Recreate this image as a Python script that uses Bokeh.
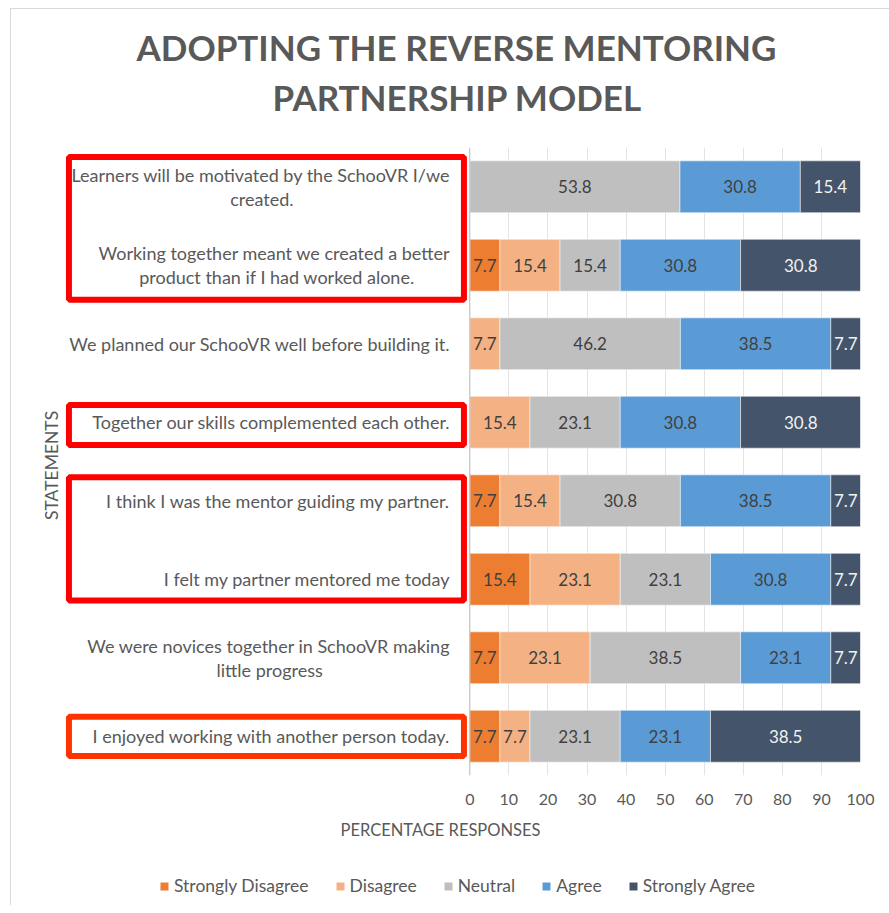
from bokeh.plotting import figure
from bokeh.layouts import column
from bokeh.models import ColumnDataSource, FixedTicker, Span, Legend, LegendItem, Range1d, Title
from bokeh.core.properties import value
from bokeh.embed import file_html
from bokeh.resources import INLINE

statements = [
    "Learners will be motivated by the SchooVR I/we\ncreated.",
    "Working together meant we created a better\nproduct than if I had worked alone.",
    "We planned our SchooVR well before building it.",
    "Together our skills complemented each other.",
    "I think I was the mentor guiding my partner.",
    "I felt my partner mentored me today",
    "We were novices together in SchooVR making\nlittle progress",
    "I enjoyed working with another person today.",
]
categories = ["Strongly Disagree", "Disagree", "Neutral", "Agree", "Strongly Agree"]
strongly_disagree = [0, 7.7, 0, 0, 7.7, 15.4, 7.7, 7.7]
disagree = [0, 15.4, 7.7, 15.4, 15.4, 23.1, 23.1, 7.7]
neutral = [53.8, 15.4, 46.2, 23.1, 30.8, 23.1, 38.5, 23.1]
agree = [30.8, 30.8, 38.5, 30.8, 38.5, 30.8, 23.1, 23.1]
strongly_agree = [15.4, 30.8, 7.7, 30.8, 7.7, 7.7, 7.7, 38.5]
x_ticks = [0, 10, 20, 30, 40, 50, 60, 70, 80, 90, 100]
highlighted_rows = [(0, 1), (3, 3), (4, 5), (7, 7)]

series = [strongly_disagree, disagree, neutral, agree, strongly_agree]
colors = ["#ED7D31", "#F4B183", "#BFBFBF", "#5B9BD5", "#44546A"]
label_colors = ["#404040", "#404040", "#404040", "#404040", "#F2F2F2"]
box_pads = [(0.38, 0.44), (0.22, 0.29), (0.30, 0.27), (0.25, 0.25)]
box_colors = ["#FF0000", "#FF0000", "#FF0000", "#FF3300"]

FONT = "Lato"
LABEL_PX = 18
TEXT_GREY = "#595959"
n = len(statements)
ys = [n - i - 0.5 for i in range(n)]


# rough Lato advance widths (em) to centre wrapped lines like the original
def text_width(s, px):
    narrow = {"i": 0.23, "l": 0.23, "j": 0.23, "t": 0.34, "f": 0.31, "r": 0.36,
              ".": 0.22, ",": 0.22, "/": 0.36, " ": 0.26, "I": 0.27}
    wide = {"m": 0.82, "w": 0.76, "W": 0.96, "M": 0.86}
    w = 0.0
    for ch in s:
        if ch in narrow:
            w += narrow[ch]
        elif ch in wide:
            w += wide[ch]
        elif ch.isupper():
            w += 0.64
        else:
            w += 0.52
    return w * px


W = 878
BL, BR = 9, 29
p = figure(width=W, height=836, output_backend="svg", toolbar_location=None,
           x_range=Range1d(-115, 100), y_range=Range1d(0, n),
           min_border_left=BL, min_border_right=BR, min_border_top=138,
           min_border_bottom=70)
p.add_layout(Title(text="PARTNERSHIP MODEL", align="left", text_font=FONT,
                   text_font_size="35px", text_font_style="bold", text_color=TEXT_GREY,
                   offset=252, standoff=59), "above")
p.add_layout(Title(text="ADOPTING THE REVERSE MENTORING", align="left", text_font=FONT,
                   text_font_size="35px", text_font_style="bold", text_color=TEXT_GREY,
                   offset=116, standoff=-47), "above")

p.outline_line_color = None
p.yaxis.visible = False
p.ygrid.visible = False
p.xgrid.ticker = FixedTicker(ticks=x_ticks)
p.xgrid.grid_line_color = "#E3E3E3"
p.xaxis.ticker = FixedTicker(ticks=x_ticks)
p.xaxis.axis_line_color = None
p.xaxis.major_tick_line_color = None
p.xaxis.minor_tick_line_color = None
p.xaxis.major_label_standoff = 12
p.xaxis.major_label_text_font = FONT
p.xaxis.major_label_text_font_size = "16px"
p.xaxis.major_label_text_color = TEXT_GREY
p.xaxis.axis_label = "PERCENTAGE RESPONSES"
p.xaxis.axis_label_text_font = FONT
p.xaxis.axis_label_text_font_size = "16.5px"
p.xaxis.axis_label_text_font_style = "normal"
p.xaxis.axis_label_text_color = TEXT_GREY
p.xaxis.axis_label_standoff = 12

p.add_layout(Span(location=0, dimension="height", line_color="#BFBFBF", line_width=1))

left = [0.0] * n
for k, (cat, vals) in enumerate(zip(categories, series)):
    right = [l + v for l, v in zip(left, vals)]
    src = ColumnDataSource(dict(y=ys, left=left, right=right))
    p.hbar(y="y", left="left", right="right", height=0.66, source=src,
           fill_color=colors[k], line_color="white", line_width=0.5)
    lx, ly, lt = [], [], []
    for i in range(n):
        if vals[i] > 0:
            lx.append((left[i] + right[i]) / 2)
            ly.append(ys[i])
            lt.append(f"{vals[i]:.1f}")
    p.text(x=lx, y=ly, text=lt, text_align="center", text_baseline="middle",
           text_font=value(FONT), text_font_size="17px", text_color=label_colors[k])
    left = right

# statement labels: block right-aligned, wrapped second line centred under the first
rx, ry, rt, ryo = [], [], [], []
cx, cy, ct, cxo = [], [], [], []
for i, s in enumerate(statements):
    lines = s.split("\n")
    if len(lines) == 1:
        rx.append(-5); ry.append(ys[i]); rt.append(lines[0]); ryo.append(0)
    else:
        rx.append(-5); ry.append(ys[i]); rt.append(lines[0]); ryo.append(-12)
        cx.append(-5); cy.append(ys[i]); ct.append(lines[1])
        cxo.append(-text_width(lines[0], LABEL_PX) / 2)
p.text(x=rx, y=ry, text=rt, y_offset=ryo, text_align="right", text_baseline="middle",
       text_font=value(FONT), text_font_size=f"{LABEL_PX}px", text_color=TEXT_GREY)
p.text(x=cx, y=cy, text=ct, x_offset=cxo, y_offset=12, text_align="center",
       text_baseline="middle", text_font=value(FONT), text_font_size=f"{LABEL_PX}px",
       text_color=TEXT_GREY)

# axis title for statements
p.text(x=[-107], y=[n / 2 - 0.05], text=["STATEMENTS"], angle=1.5708,
       text_align="center", text_baseline="middle",
       text_font=value(FONT), text_font_size="17.5px", text_color=TEXT_GREY)

# highlight boxes
bx, by, bw, bh = [], [], [], []
for (a, b), (pt, pb) in zip(highlighted_rows, box_pads):
    top = ys[a] + pt
    bot = ys[b] - pb
    bx.append((-102.6 + -1.5) / 2)
    bw.append(101.1)
    by.append((top + bot) / 2)
    bh.append(top - bot)
p.rect(x=bx, y=by, width=bw, height=bh, fill_color=None, line_color=box_colors, line_width=6)

# legend strip (swatches come from zero-height bars that draw nothing)
lg = figure(width=W, height=60, output_backend="svg", toolbar_location=None,
            x_range=Range1d(0, 1), y_range=Range1d(0, 1),
            min_border_left=BL, min_border_right=BR, min_border_top=0, min_border_bottom=0)
lg.axis.visible = False
lg.grid.visible = False
lg.outline_line_color = None
items = []
for cat, col in zip(categories, colors):
    rr = lg.vbar(x=[0.5], top=[0], bottom=[0], width=0.0, fill_color=col, line_color=None)
    items.append(LegendItem(label=cat, renderers=[rr]))
legend = Legend(items=items, orientation="horizontal", location=(139, 9),
                label_text_font=FONT, label_text_font_size="17.5px", label_text_color=TEXT_GREY,
                glyph_width=10, glyph_height=10, spacing=26, border_line_color=None,
                background_fill_alpha=0, padding=4, label_standoff=5, margin=0)
lg.add_layout(legend)

layout = column(p, lg, spacing=0,
                styles={"margin-left": "10px", "margin-top": "8px",
                        "border-left": "1px solid #D9D9D9", "border-top": "1px solid #D9D9D9"})
open("out.html", "w").write(file_html(layout, INLINE))
